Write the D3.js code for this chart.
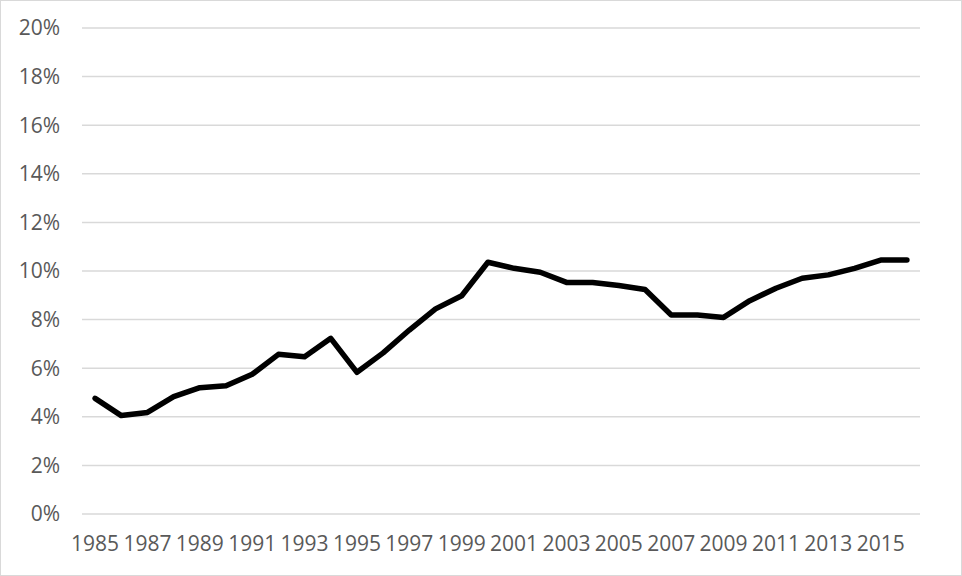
<!DOCTYPE html>
<html>
<head>
<meta charset="utf-8">
<script src="https://cdn.jsdelivr.net/npm/d3@7"></script>
<style>
  body { margin: 0; background: #fff; }
  text { font-family: "Open Sans", sans-serif; fill: #595959; }
</style>
</head>
<body>
<div id="chart"></div>
<script>
const years = d3.range(1985, 2017);
const rates = [4.76, 4.05, 4.18, 4.83, 5.2, 5.28, 5.75, 6.57, 6.47, 7.23,
  5.83, 6.63, 7.57, 8.44, 8.98, 10.36, 10.11, 9.95, 9.53, 9.53,
  9.4, 9.24, 8.19, 8.19, 8.09, 8.78, 9.29, 9.7, 9.84, 10.11,
  10.45, 10.45];
const yTicks = [0, 2, 4, 6, 8, 10, 12, 14, 16, 18, 20];
const xLabels = years.filter((y, i) => i % 2 === 0);

const W = 962, H = 576;
const margin = {t: 28, r: 42, b: 62, l: 82};

const svg = d3.select("#chart").append("svg")
  .attr("width", W)
  .attr("height", H);

// outer frame
svg.append("rect")
  .attr("x", 0.5).attr("y", 0.5)
  .attr("width", W - 1).attr("height", H - 1)
  .attr("fill", "none")
  .attr("stroke", "#d9d9d9");

const x = d3.scaleBand()
  .domain(years)
  .range([margin.l, W - margin.r]);

const y = d3.scaleLinear()
  .domain([0, 20])
  .range([H - margin.b, margin.t]);

// gridlines
svg.selectAll(".grid")
  .data(yTicks)
  .enter()
  .append("line")
  .attr("class", "grid")
  .attr("x1", margin.l)
  .attr("x2", W - margin.r)
  .attr("y1", d => y(d))
  .attr("y2", d => y(d))
  .attr("stroke", "#d9d9d9")
  .attr("stroke-width", 1.5);

// y labels
svg.selectAll(".ylab")
  .data(yTicks)
  .enter()
  .append("text")
  .attr("class", "ylab")
  .attr("x", 60)
  .attr("y", d => y(d))
  .attr("dy", "0.35em")
  .attr("text-anchor", "end")
  .style("font-size", "21px")
  .text(d => d + "%");

// x labels
svg.selectAll(".xlab")
  .data(xLabels)
  .enter()
  .append("text")
  .attr("class", "xlab")
  .attr("x", d => x(d) + x.bandwidth() / 2)
  .attr("y", 551)
  .attr("text-anchor", "middle")
  .style("font-size", "21px")
  .text(d => d);

const line = d3.line()
  .x((d, i) => x(years[i]) + x.bandwidth() / 2)
  .y(d => y(d));

svg.append("path")
  .datum(rates)
  .attr("d", line)
  .attr("fill", "none")
  .attr("stroke", "#000")
  .attr("stroke-width", 5.5)
  .attr("stroke-linejoin", "round")
  .attr("stroke-linecap", "round");
</script>
</body>
</html>
